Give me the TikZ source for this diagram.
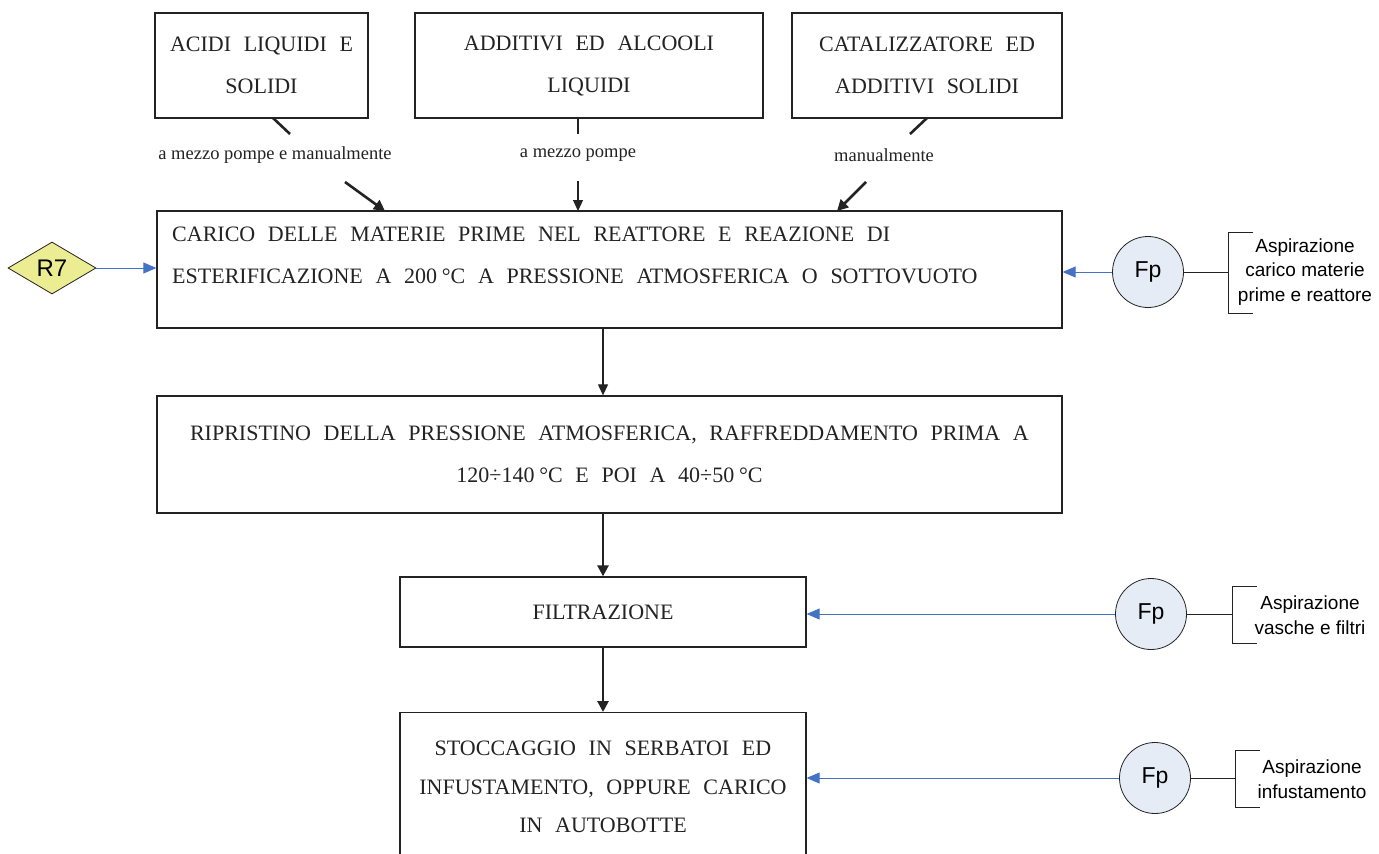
\documentclass[tikz,border=0pt]{standalone}
\usepackage{fontspec}
\setmainfont{Liberation Serif}
\setsansfont{Liberation Sans}
\newfontfamily\boxfont{Liberation Serif}[WordSpace=2.3]
\usetikzlibrary{shapes.geometric,arrows.meta}

\definecolor{r7yellow}{RGB}{236,236,146}
\definecolor{fpblue}{RGB}{230,236,246}
\definecolor{feedblue}{RGB}{68,114,196}
\definecolor{ink}{RGB}{35,35,35}

% narrow space before a unit
\newcommand{\unitsp}{\hspace{0.22em}}

\begin{document}
\begin{tikzpicture}[x=1pt,y=-1pt,
  proc/.style={draw=ink, line width=1.3pt, rectangle, inner sep=0pt},
  boxtext/.style={font=\boxfont\fontsize{22}{42}\selectfont, text=ink},
  lbl/.style={font=\fontsize{18.5}{20}\selectfont, text=ink, inner sep=1pt},
  fp/.style={circle, draw=ink, line width=0.8pt, fill=fpblue, minimum size=71pt,
    inner sep=0pt, font=\sffamily\fontsize{23}{26}\selectfont},
  note/.style={font=\sffamily\fontsize{19}{24.5}\selectfont, align=center, inner sep=0pt},
  thinflow/.style={draw=ink, line width=1.2pt, -{Triangle[length=11pt,width=10pt]}},
  boldflow/.style={draw=ink, line width=2.6pt, -{Triangle[length=11pt,width=11pt]}},
  boldstub/.style={draw=ink, line width=2.6pt},
  thinstub/.style={draw=ink, line width=1.2pt},
  feed/.style={draw=feedblue, line width=0.9pt, -{Triangle[length=13pt,width=11pt]}},
  bracket/.style={draw=ink, line width=0.9pt}
]
\clip (0,0) rectangle (1379,854);
\fill[white] (0,0) rectangle (1379,854);

% raw material boxes
\node[proc, boxtext, align=center, minimum width=213pt, minimum height=105pt]
  (acidi) at (261.5,65.5) {ACIDI LIQUIDI E\\SOLIDI};
\node[proc, boxtext, align=center, minimum width=348pt, minimum height=105pt]
  (additivi) at (589,65.5) {ADDITIVI ED ALCOOLI\\LIQUIDI};
\node[proc, boxtext, align=center, minimum width=270pt, minimum height=105pt]
  (catal) at (927,65.5) {CATALIZZATORE ED\\ADDITIVI SOLIDI};

% process steps
\node[proc, minimum width=905pt, minimum height=117pt] (carico) at (609.5,269.5) {};
\node[boxtext, align=left, anchor=west, inner sep=0pt] (caricoT) at (172,255)
  {CARICO DELLE MATERIE PRIME NEL REATTORE E REAZIONE DI\\
   ESTERIFICAZIONE A 200\unitsp°C A PRESSIONE ATMOSFERICA O SOTTOVUOTO};

\node[proc, boxtext, align=center, minimum width=905pt, minimum height=117pt]
  (ripr) at (609.5,454.5)
  {RIPRISTINO DELLA PRESSIONE ATMOSFERICA, RAFFREDDAMENTO PRIMA A\\
   120÷140\unitsp°C E POI A 40÷50\unitsp°C};

\node[proc, boxtext, minimum width=406pt, minimum height=70pt]
  (filt) at (603,612) {FILTRAZIONE};

\node[proc, minimum width=406pt, minimum height=170pt, anchor=north]
  (stocc) at (603,712) {};
\node[boxtext, align=center, inner sep=0pt, font=\boxfont\fontsize{22}{38.5}\selectfont]
  (stoccT) at (603,787)
  {STOCCAGGIO IN SERBATOI ED\\INFUSTAMENTO, OPPURE CARICO\\IN AUTOBOTTE};

% feeding labels
\node[lbl] (lblA) at (275,155) {a mezzo pompe e manualmente};
\node[lbl] (lblB) at (578,155) {a mezzo pompe};
\node[lbl] (lblC) at (884,155) {manualmente};

\coordinate (a0) at (273,118);   \coordinate (a1) at (290,134);
\coordinate (a2) at (345,182);   \coordinate (a3) at (385,211);
\coordinate (b0) at (578,118);   \coordinate (b1) at (578,134);
\coordinate (b2) at (578,181);   \coordinate (b3) at (578,211);
\coordinate (c0) at (927,118);   \coordinate (c1) at (910,134);
\coordinate (c2) at (866,182);   \coordinate (c3) at (837,211);

\draw[boldstub] (a0) -- (a1);
\draw[boldflow] (a2) -- (a3);
\draw[thinstub] (b0) -- (b1);
\draw[thinflow] (b2) -- (b3);
\draw[boldstub] (c0) -- (c1);
\draw[boldflow] (c2) -- (c3);

% main flow
\draw[thinflow] (carico.south -| filt.north) -- (ripr.north -| filt.north);
\draw[boldflow] (ripr.south -| filt.north) -- (filt.north);
\draw[boldflow] (filt.south) -- (stocc.north);

% recovery input
\node[diamond, draw=ink, line width=0.8pt, fill=r7yellow, minimum width=88pt,
  minimum height=52pt, inner sep=0pt, font=\sffamily\fontsize{24}{26}\selectfont]
  (r7) at (52,268) {R7};
\draw[feed] (r7.east) -- (r7.east -| carico.west);

% emission points
\node[fp] (fp1) at (1148,272) {Fp};
\node[fp] (fp2) at (1151,614) {Fp};
\node[fp] (fp3) at (1155,778) {Fp};

\draw[feed] (fp1.west) -- (fp1.west -| carico.east);
\draw[feed] (fp2.west) -- (fp2.west -| filt.east);
\draw[feed] (fp3.west) -- (fp3.west -| stocc.east);

\coordinate (k1) at (1228,272);
\coordinate (k2) at (1232,614);
\coordinate (k3) at (1235,778);
\draw[bracket] (fp1.east) -- (k1);
\draw[bracket] (fp2.east) -- (k2);
\draw[bracket] (fp3.east) -- (k3);
\draw[bracket] (1253,232) -- (1228,232) -- (1228,313) -- (1253,313);
\draw[bracket] (1257,586) -- (1232,586) -- (1232,643) -- (1257,643);
\draw[bracket] (1260,750) -- (1235,750) -- (1235,807) -- (1260,807);

\node[note] (n1) at (1305,272) {Aspirazione\\carico materie\\prime e reattore};
\node[note] (n2) at (1310,615) {Aspirazione\\vasche e filtri};
\node[note] (n3) at (1312,779) {Aspirazione\\infustamento};

\end{tikzpicture}
\end{document}
